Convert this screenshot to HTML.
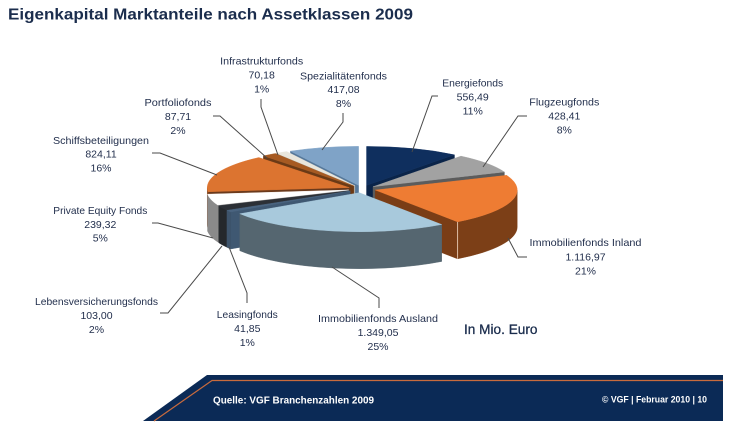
<!DOCTYPE html>
<html>
<head>
<meta charset="utf-8">
<style>
html,body{margin:0;padding:0;background:#fff;}
svg{display:block;}
text{font-family:"Liberation Sans",sans-serif;}
.l{font-size:10.5px;fill:#1f2c4a;text-anchor:middle;}
.ln{fill:none;stroke:#4a4a4a;stroke-width:1;}
</style>
</head>
<body>
<svg id="s" width="730" height="430" viewBox="0 0 730 430" xmlns="http://www.w3.org/2000/svg">
<rect width="730" height="430" fill="#ffffff"/>
<text x="8" y="19.5" font-size="16" font-weight="bold" fill="#1b2d4d" textLength="405" lengthAdjust="spacingAndGlyphs">Eigenkapital Marktanteile nach Assetklassen 2009</text>

<g id="pie"></g>

<!-- leader lines -->
<polyline class="ln" points="261,99 261,107 278,155"/>
<polyline class="ln" points="343,113 343,122 322,150"/>
<polyline class="ln" points="213,116 220,116 267,158"/>
<polyline class="ln" points="152,153 160,153 217,175"/>
<polyline class="ln" points="152,223 158,223 213,238"/>
<polyline class="ln" points="160,313 168,313 222,246"/>
<polyline class="ln" points="247,303 247,293 229,247"/>
<polyline class="ln" points="379,308 379,298 332,267"/>
<polyline class="ln" points="527,257 518,257 508,238"/>
<polyline class="ln" points="527,116 518,116 483,167"/>
<polyline class="ln" points="438,96 432,96 412,152"/>

<!-- labels -->
<text class="l" x="261.7" y="64.5" textLength="83" lengthAdjust="spacingAndGlyphs">Infrastrukturfonds</text>
<text class="l" x="261.7" y="78.5">70,18</text>
<text class="l" x="261.7" y="92.5">1%</text>

<text class="l" x="343.5" y="79.5" textLength="87" lengthAdjust="spacingAndGlyphs">Spezialitätenfonds</text>
<text class="l" x="343.5" y="93">417,08</text>
<text class="l" x="343.5" y="107">8%</text>

<text class="l" x="178" y="106" textLength="67" lengthAdjust="spacingAndGlyphs">Portfoliofonds</text>
<text class="l" x="178" y="120">87,71</text>
<text class="l" x="178" y="134">2%</text>

<text class="l" x="101" y="144" textLength="96" lengthAdjust="spacingAndGlyphs">Schiffsbeteiligungen</text>
<text class="l" x="101" y="157.5">824,11</text>
<text class="l" x="101" y="171.5">16%</text>

<text class="l" x="100.3" y="214" textLength="94" lengthAdjust="spacingAndGlyphs">Private Equity Fonds</text>
<text class="l" x="100.3" y="228">239,32</text>
<text class="l" x="100.3" y="241.5">5%</text>

<text class="l" x="96.5" y="305" textLength="123" lengthAdjust="spacingAndGlyphs">Lebensversicherungsfonds</text>
<text class="l" x="96.5" y="319">103,00</text>
<text class="l" x="96.5" y="333">2%</text>

<text class="l" x="247.3" y="318" textLength="61" lengthAdjust="spacingAndGlyphs">Leasingfonds</text>
<text class="l" x="247.3" y="332">41,85</text>
<text class="l" x="247.3" y="346">1%</text>

<text class="l" x="378" y="322" textLength="120" lengthAdjust="spacingAndGlyphs">Immobilienfonds Ausland</text>
<text class="l" x="378" y="336">1.349,05</text>
<text class="l" x="378" y="350">25%</text>

<text class="l" x="472.7" y="86.5" textLength="61" lengthAdjust="spacingAndGlyphs">Energiefonds</text>
<text class="l" x="472.7" y="100.5">556,49</text>
<text class="l" x="472.7" y="114.5">11%</text>

<text class="l" x="564.3" y="105.5" textLength="70" lengthAdjust="spacingAndGlyphs">Flugzeugfonds</text>
<text class="l" x="564.3" y="119.5">428,41</text>
<text class="l" x="564.3" y="133.5">8%</text>

<text class="l" x="585.5" y="246" textLength="112" lengthAdjust="spacingAndGlyphs">Immobilienfonds Inland</text>
<text class="l" x="585.5" y="260.5">1.116,97</text>
<text class="l" x="585.5" y="274.5">21%</text>

<text x="464" y="334" font-size="13.5" fill="#1b2d4d" stroke="#1b2d4d" stroke-width="0.3" textLength="73.5" lengthAdjust="spacingAndGlyphs">In Mio. Euro</text>

<!-- footer -->
<polygon points="207,375 723,375 723,421 143,421" fill="#0b2a56"/>
<polyline points="723,380.5 212,380.5 154,421" fill="none" stroke="#c96b3d" stroke-width="1.2"/>
<text x="213" y="403.5" font-size="10.5" font-weight="bold" fill="#ffffff" textLength="161" lengthAdjust="spacingAndGlyphs">Quelle: VGF Branchenzahlen 2009</text>
<text x="602" y="402.5" font-size="9" font-weight="bold" fill="#ffffff" textLength="105" lengthAdjust="spacingAndGlyphs">© VGF  | Februar 2010 |  10</text>
</svg>
<script>
(function(){
var NS="http://www.w3.org/2000/svg";
var cx=362,cy=189,rx=142,ry=39,D=37,E=0.097;
var data=[
 [556.49,'#0f2f5e','#0a2247','#0a2449'],
 [428.41,'#a2a2a2','#6f6f6f','#5c5c5c'],
 [1116.97,'#ee7c33','#7c3f17','#7a3d16'],
 [1349.05,'#a8c9dc','#556670','#4d5d68'],
 [41.85,'#4a6480','#3e546c','#3f5872'],
 [103.00,'#2c3036','#25282c','#2a2d31'],
 [239.32,'#ffffff','#8a8a8a','#9a9a9a'],
 [824.11,'#dc7430','#8a4a20','#6b3a1c'],
 [87.71,'#a65a22','#6b3a16','#6b3a16'],
 [70.18,'#e9e6dc','#b5b2a8','#b5b2a8'],
 [417.08,'#7fa3c7','#56789a','#56789a']
];
var tot=0;data.forEach(function(d){tot+=d[0];});
var a=0,sl=[];
data.forEach(function(d,i){
 var s=a,e=a+d[0]/tot*2*Math.PI;a=e;var m=(s+e)/2;
 sl.push({i:i,s:s,e:e,m:m,c:d,ox:E*rx*Math.sin(m),oy:-E*ry*Math.cos(m)});
});
function P(t,o,z){return (cx+o.ox+rx*Math.sin(t)).toFixed(2)+','+(cy+o.oy-ry*Math.cos(t)+z).toFixed(2);}
function V(o,z){return (cx+o.ox).toFixed(2)+','+(cy+o.oy+z).toFixed(2);}
var g=document.getElementById('pie');
function add(d,fill){var p=document.createElementNS(NS,'path');p.setAttribute('d',d);p.setAttribute('fill',fill);p.setAttribute('stroke',fill);p.setAttribute('stroke-width','0.4');p.setAttribute('stroke-linejoin','round');g.appendChild(p);}
var ord=sl.slice().sort(function(p,q){return Math.cos(q.m)-Math.cos(p.m);});
ord.forEach(function(o){
 var s=o.s,e=o.e;
 if(Math.sin(s)<-1e-9){add('M'+V(o,0)+' L'+P(s,o,0)+' L'+P(s,o,D)+' L'+V(o,D)+' Z',o.c[3]);}
 if(Math.sin(e)>1e-9){add('M'+V(o,0)+' L'+P(e,o,0)+' L'+P(e,o,D)+' L'+V(o,D)+' Z',o.c[3]);}
 var s2=Math.max(s,Math.PI/2),e2=Math.min(e,3*Math.PI/2);
 if(e2>s2){
  add('M'+P(s2,o,0)+' A'+rx+','+ry+' 0 0 1 '+P(e2,o,0)+' L'+P(e2,o,D)+' A'+rx+','+ry+' 0 0 0 '+P(s2,o,D)+' Z',o.c[2]);
 }
 if(o.i===2){
  var l=document.createElementNS(NS,'path');
  l.setAttribute('d','M'+P(e,o,0)+' L'+P(e,o,D));
  l.setAttribute('stroke','#dcbca4');l.setAttribute('stroke-width','1');
  g.appendChild(l);
 }
 add('M'+V(o,0)+' L'+P(s,o,0)+' A'+rx+','+ry+' 0 '+((e-s)>Math.PI?1:0)+' 1 '+P(e,o,0)+' Z',o.c[1]);
});
})();
</script>
</body>
</html>
